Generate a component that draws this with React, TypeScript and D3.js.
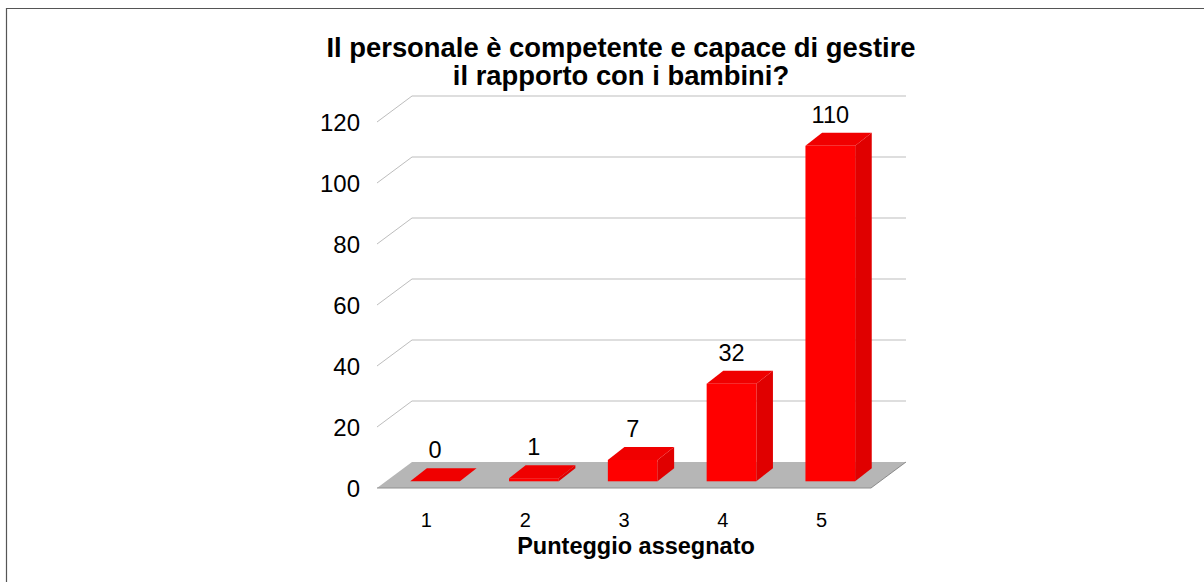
import React from "react";
import * as d3 from "d3";

const categories = ["1", "2", "3", "4", "5"];
const values = [0, 1, 7, 32, 110];
const yTicks = [0, 20, 40, 60, 80, 100, 120];
const titleLines = ["Il personale è competente e capace di gestire", "il rapporto con i bambini?"];
const xTitle = "Punteggio assegnato";

const FONT = "'Liberation Sans', Arial, sans-serif";
const floorFrontY = 488;
const depthX = 35;
const depthY = 26;
const barDepthX = 16.6;
const barDepthY = 13;
const barOffX = 8.7;
const barOffY = 6.7;

const x = d3.scaleBand<string>().domain(categories).range([377, 871]).paddingInner(0).paddingOuter(0);
const y = d3.scaleLinear().domain([0, 120]).range([floorFrontY, floorFrontY - 366]);
const barW = x.bandwidth() * 0.503;

const poly = (pts: [number, number][]) => pts.map((p) => p.join(",")).join(" ");

export default function App() {
  return (
    <svg width={1204} height={582} viewBox="0 0 1204 582" style={{ position: "absolute", left: 0, top: 0, background: "#fff" }} fontFamily={FONT}>
      <path d="M6.5 582V8.5H1204" fill="none" stroke="#555" strokeWidth={1.2} />
      {titleLines.map((t, i) => (
        <text key={t} x={621} y={56.5 + i * 28.5} textAnchor="middle" fontSize={27.4} fontWeight="bold" fill="#000">{t}</text>
      ))}
      {yTicks.map((t) => {
        const py = y(t);
        return (
          <g key={t}>
            {t > 0 && (
              <polyline points={poly([[377, py], [377 + depthX, py - depthY], [871 + depthX, py - depthY]])} fill="none" stroke="#bdbdbd" strokeWidth={1} />
            )}
            <text x={360} y={py + 9} textAnchor="end" fontSize={24} fill="#000">{t}</text>
          </g>
        );
      })}
      <polygon points={poly([[377, floorFrontY], [377 + depthX, floorFrontY - depthY], [871 + depthX, floorFrontY - depthY], [871, floorFrontY]])} fill="#b6b6b6" />
      <line x1={377} x2={871} y1={floorFrontY} y2={floorFrontY} stroke="#8f8f8f" strokeWidth={1.2} />
      <line x1={871} x2={871 + depthX} y1={floorFrontY} y2={floorFrontY - depthY} stroke="#777" strokeWidth={0.8} />
      {categories.map((c, i) => {
        const x0 = (x(c) as number) + (x.bandwidth() - barW) / 2 + barOffX;
        const x1 = x0 + barW;
        const yb = y(0) - barOffY;
        const yt = y(values[i]) - barOffY;
        return (
          <g key={c}>
            <polygon points={poly([[x1, yb], [x1 + barDepthX, yb - barDepthY], [x1 + barDepthX, yt - barDepthY], [x1, yt]])} fill="#e00000" />
            <polygon points={poly([[x0, yt], [x0 + barDepthX, yt - barDepthY], [x1 + barDepthX, yt - barDepthY], [x1, yt]])} fill="#f00000" />
            <rect x={x0} y={yt} width={barW} height={yb - yt} fill="#ff0000" />
            <text x={(x0 + x1) / 2} y={yt - 23} textAnchor="middle" fontSize={23.5} fill="#000">{values[i]}</text>
            <text x={(x(c) as number) + x.bandwidth() / 2} y={527} textAnchor="middle" fontSize={20} fill="#000">{c}</text>
          </g>
        );
      })}
      <text x={636} y={554} textAnchor="middle" fontSize={23.5} fontWeight="bold" fill="#000">{xTitle}</text>
    </svg>
  );
}
